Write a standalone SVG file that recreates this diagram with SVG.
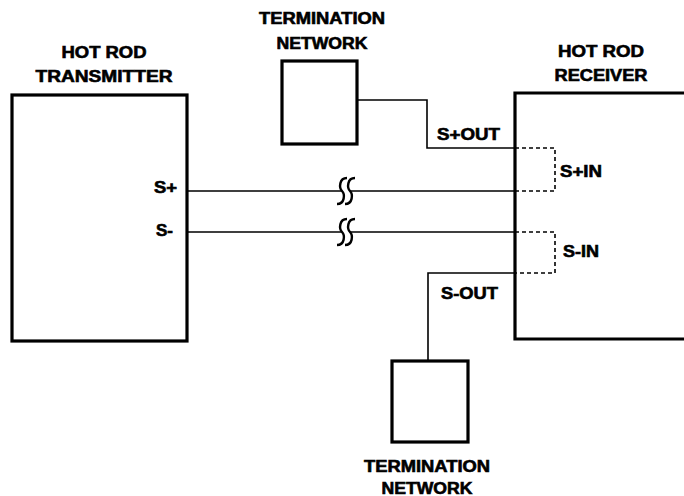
<svg xmlns="http://www.w3.org/2000/svg" width="684" height="496" viewBox="0 0 684 496">
<style>
.box{fill:none;stroke:#000;stroke-width:3.2}
.w{fill:none;stroke:#000;stroke-width:1.6}
.d{fill:none;stroke:#000;stroke-width:1.6;stroke-dasharray:4 3}
.brk{fill:none;stroke:#000;stroke-width:2.4}
text{font-family:"Liberation Sans",Arial,sans-serif;font-weight:bold;font-size:16px;fill:#000;stroke:#000;stroke-width:0.6}
.c{text-anchor:middle}
</style>
<rect width="684" height="496" fill="#fff" stroke="none"/>
<g id="transmitter">
<rect class="box" x="12" y="95" width="175" height="246"/>
<text class="c" x="104" y="58" textLength="85" lengthAdjust="spacingAndGlyphs">HOT ROD</text>
<text class="c" x="104" y="82" textLength="137" lengthAdjust="spacingAndGlyphs">TRANSMITTER</text>
<text x="154" y="193" textLength="23" lengthAdjust="spacingAndGlyphs">S+</text>
<text x="156" y="236" textLength="17" lengthAdjust="spacingAndGlyphs">S-</text>
</g>
<g id="receiver">
<path class="box" d="M690,93 H515 V339 H690"/>
<text class="c" x="601" y="57" textLength="86" lengthAdjust="spacingAndGlyphs">HOT ROD</text>
<text class="c" x="601" y="81" textLength="93" lengthAdjust="spacingAndGlyphs">RECEIVER</text>
<text x="560" y="177" textLength="42" lengthAdjust="spacingAndGlyphs">S+IN</text>
<text x="563" y="257" textLength="36" lengthAdjust="spacingAndGlyphs">S-IN</text>
</g>
<g id="termination-top">
<rect class="box" x="282" y="61" width="75" height="83"/>
<text class="c" x="322" y="24" textLength="126" lengthAdjust="spacingAndGlyphs">TERMINATION</text>
<text class="c" x="322" y="49" textLength="91" lengthAdjust="spacingAndGlyphs">NETWORK</text>
</g>
<g id="termination-bottom">
<rect class="box" x="392" y="361" width="76" height="81"/>
<text class="c" x="427" y="472" textLength="126" lengthAdjust="spacingAndGlyphs">TERMINATION</text>
<text class="c" x="427" y="494" textLength="91" lengthAdjust="spacingAndGlyphs">NETWORK</text>
</g>
<g id="connectors">
<path class="w" d="M357,100 H427 V148 H515"/>
<text x="437" y="140" textLength="63" lengthAdjust="spacingAndGlyphs">S+OUT</text>
<path class="d" d="M515,148 H555 V191 H515"/>
<path class="w" d="M187,191 H342 M350,191 H515"/>
<path class="brk" d="M347,178 C339,178 339,188 342,191 C345,194 345,204 337,204 M355,178 C347,178 347,188 350,191 C353,194 353,204 345,204"/>
<path class="w" d="M187,232 H342 M350,232 H515"/>
<path class="brk" d="M347,219 C339,219 339,229 342,232 C345,235 345,245 337,245 M355,219 C347,219 347,229 350,232 C353,235 353,245 345,245"/>
<path class="d" d="M515,232 H555 V273 H515"/>
<path class="w" d="M515,273 H428 V361"/>
<text x="441" y="299" textLength="57" lengthAdjust="spacingAndGlyphs">S-OUT</text>
</g>
</svg>
